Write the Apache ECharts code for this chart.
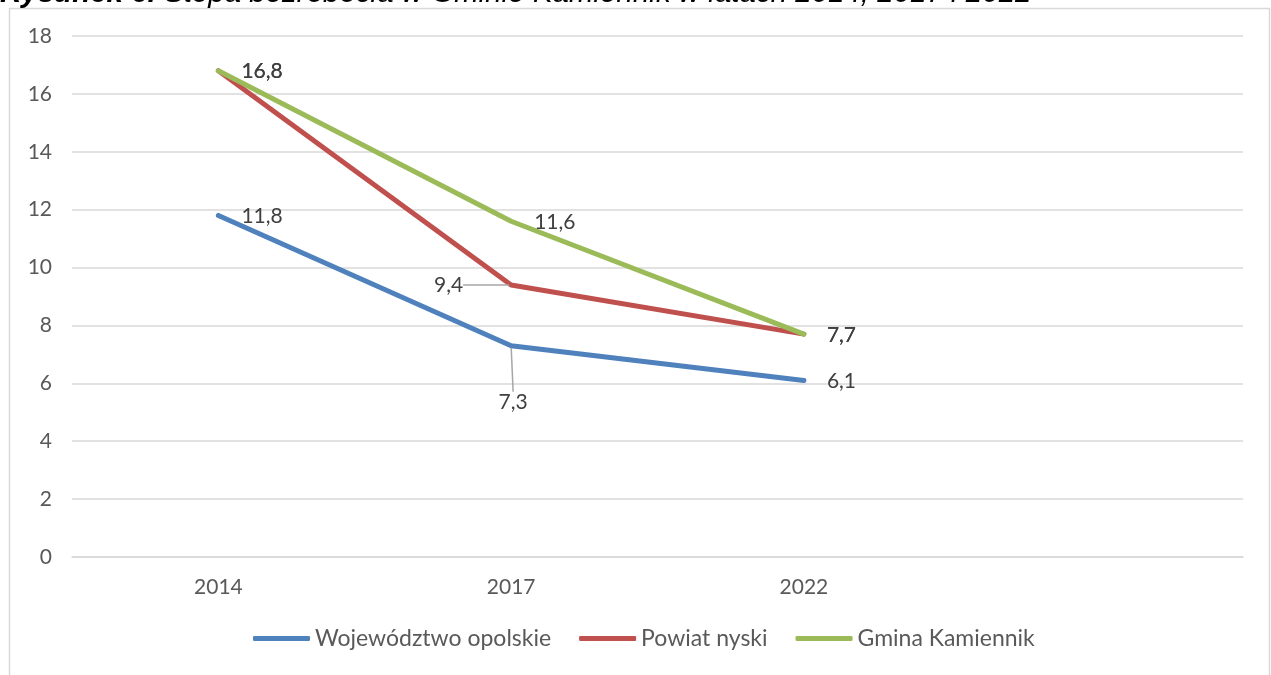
<!DOCTYPE html>
<html>
<head>
<meta charset="utf-8">
<script src="https://cdn.jsdelivr.net/npm/echarts@6/dist/echarts.min.js"></script>
<style>
html,body{margin:0;padding:0;background:#fff;}
#c{width:1271px;height:675px;}
</style>
</head>
<body>
<div id="c"></div>
<script>
const categories = ['2014', '2017', '2022', ''];
const seriesNames = ['Województwo opolskie', 'Powiat nyski', 'Gmina Kamiennik'];
const wojewodztwo = [11.8, 7.3, 6.1];
const powiat = [16.8, 9.4, 7.7];
const gmina = [16.8, 11.6, 7.7];
const yMin = 0, yMax = 18, yStep = 2;
const titleBold = 'Rysunek 6.';
const titleRest = ' Stopa bezrobocia w Gminie Kamiennik w latach 2014, 2017 i 2022';

const colors = ['#4F81BD', '#C0504D', '#9BBB59'];
const FONT = 'Lato';
const labelColor = '#404040';

// which points get a displaced label with a leader line (style only)
const displaced = [
  [null, 'below', null],
  [null, 'left', null],
  [null, null, null]
];

function fmt(v) { return String(v).replace('.', ','); }

function buildData(vals, si) {
  return vals.map((v, i) => ({
    value: v,
    labelLine: { show: !!displaced[si][i] }
  }));
}

const allVals = [wojewodztwo, powiat, gmina];
const series = allVals.map((vals, si) => ({
  name: seriesNames[si],
  type: 'line',
  data: buildData(vals, si),
  symbol: 'circle',
  symbolSize: 4,
  showSymbol: true,
  z: 2 + si,
  lineStyle: { color: colors[si], width: 5, cap: 'round', join: 'round' },
  itemStyle: { color: colors[si] },
  label: {
    show: true,
    position: 'right',
    distance: 21,
    formatter: p => fmt(p.value),
    color: labelColor,
    fontFamily: FONT,
    fontSize: 21
  },
  labelLine: { show: true, lineStyle: { color: '#a6a6a6', width: 1.5 } },
  labelLayout: function (params) {
    const mode = displaced[si][params.dataIndex];
    const r = params.rect;
    const cx = r.x + r.width / 2, cy = r.y + r.height / 2;
    if (mode === 'left') {
      return { x: cx - 48, y: cy, align: 'right', verticalAlign: 'middle' };
    }
    if (mode === 'below') {
      return { x: cx + 2, y: cy + 46, align: 'center', verticalAlign: 'top' };
    }
    return { dy: 1 };
  },
  emphasis: { disabled: true },
  animation: false
}));

const chart = echarts.init(document.getElementById('c'), null, { renderer: 'canvas' });
chart.setOption({
  animation: false,
  color: colors,
  graphic: [
    {
      type: 'rect',
      shape: { x: 9.5, y: 8.5, width: 1260, height: 700 },
      style: { fill: 'none', stroke: '#d9d9d9', lineWidth: 1.5 },
      silent: true,
      z: 0
    },
    {
      type: 'text',
      left: 0,
      top: -21,
      style: {
        text: '{b|' + titleBold + '}{i|' + titleRest + '}',
        rich: {
          b: { fontFamily: 'Liberation Sans', fontWeight: 'bold', fontStyle: 'italic', fontSize: 29.5, fill: '#000' },
          i: { fontFamily: 'Liberation Sans', fontStyle: 'italic', fontWeight: 'normal', fontSize: 29.5, fill: '#000' }
        }
      },
      z: 10
    }
  ],
  grid: { left: 72, right: 28, top: 36, bottom: 118, containLabel: false },
  legend: {
    show: true,
    left: 253,
    top: 627,
    padding: 0,
    itemWidth: 57,
    itemHeight: 5,
    itemGap: 28,
    icon: 'roundRect',
    textStyle: { fontFamily: FONT, fontSize: 23, color: '#595959' },
    data: seriesNames
  },
  xAxis: {
    type: 'category',
    data: categories,
    boundaryGap: true,
    axisLine: { show: true, lineStyle: { color: '#d9d9d9', width: 1.5 } },
    axisTick: { show: false },
    axisLabel: { margin: 20, fontFamily: FONT, fontSize: 21, color: '#595959' },
    splitLine: { show: false }
  },
  yAxis: {
    type: 'value',
    min: yMin,
    max: yMax,
    interval: yStep,
    axisLine: { show: false },
    axisTick: { show: false },
    axisLabel: { margin: 20, fontFamily: FONT, fontSize: 21, color: '#595959' },
    splitLine: { show: true, lineStyle: { color: '#d9d9d9', width: 1.5 } }
  },
  series: series
});
</script>
</body>
</html>
